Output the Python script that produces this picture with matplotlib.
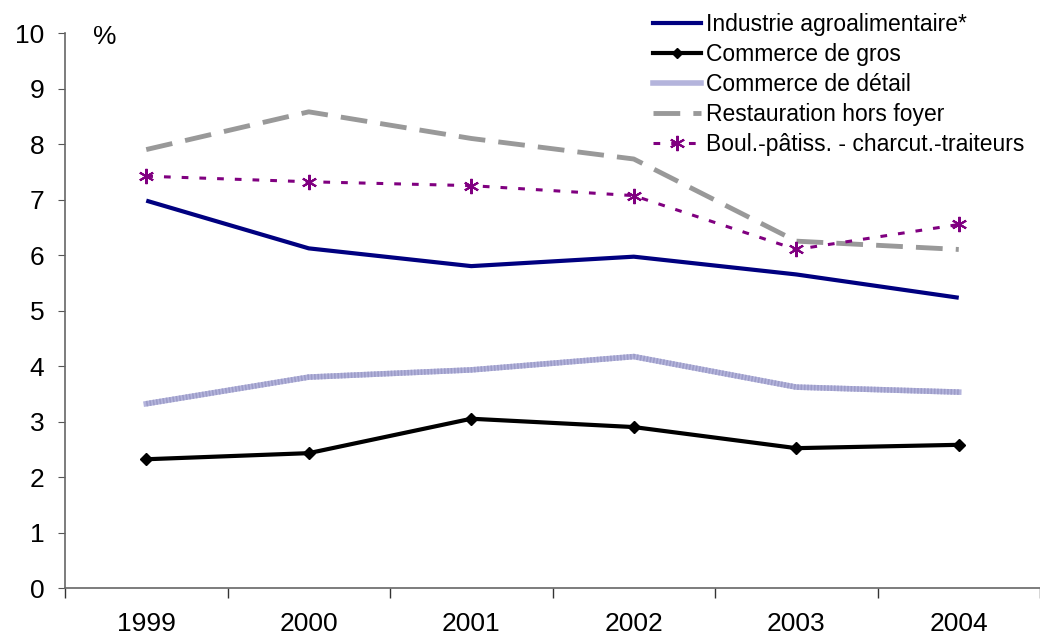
import matplotlib
matplotlib.use("Agg")
import matplotlib.pyplot as plt
from matplotlib.lines import Line2D

plt.rcParams['font.family'] = ['Liberation Sans', 'DejaVu Sans']

years = ["1999", "2000", "2001", "2002", "2003", "2004"]
industrie = [6.98, 6.12, 5.80, 5.97, 5.65, 5.23]
commerce_gros = [2.32, 2.43, 3.05, 2.90, 2.52, 2.58]
commerce_detail = [3.32, 3.80, 3.93, 4.17, 3.62, 3.53]
restauration = [7.90, 8.58, 8.10, 7.73, 6.25, 6.10]
boulangerie = [7.42, 7.32, 7.25, 7.07, 6.10, 6.55]

labels = ["Industrie agroalimentaire*", "Commerce de gros", "Commerce de détail",
          "Restauration hors foyer", "Boul.-pâtiss. - charcut.-traiteurs"]

fig = plt.figure(figsize=(10.4, 6.35), dpi=100)
ax = fig.add_axes([0.0625, 0.074, 0.9375, 0.874])

x = list(range(len(years)))
ax.plot(x, industrie, color="#000080", lw=3, solid_capstyle="butt", zorder=3)
ax.plot(x, commerce_gros, color="black", lw=3, marker="D", ms=6, zorder=3)
ax.plot(x, commerce_detail, color="#b4b4dc", lw=4, zorder=2)
ax.plot(x, commerce_detail, color="#9c9cc8", lw=4, ls=(0, (0.3, 0.3)), zorder=2)
ax.plot(x, restauration, color="#999999", lw=3.5, ls=(0, (5.5, 2.7)), zorder=2)
ax.plot(x, boulangerie, color="#800080", lw=2.2, ls=(0, (2.2, 3.6)), marker=(6, 2, 0),
        ms=11, mew=1.5, zorder=4)

ax.set_xlim(-0.5, 5.5)
ax.set_ylim(0, 10)
ax.set_yticks(range(0, 11))
ax.set_xticks([i - 0.5 for i in range(7)])
ax.set_xticklabels([])
ax.set_xticks(x, minor=True)
ax.set_xticklabels(years, minor=True)
ax.tick_params(axis="x", which="major", length=7, direction="out", color="#333333", width=1)
ax.tick_params(axis="x", which="minor", length=0, pad=17, labelsize=19)
ax.tick_params(axis="y", length=5, direction="out", color="#555555", labelsize=19, pad=10)
for s in ["top", "right"]:
    ax.spines[s].set_visible(False)
for s in ["left", "bottom"]:
    ax.spines[s].set_color("#666666")
    ax.spines[s].set_linewidth(1.2)

ax.text(0.0287, 0.993, "%", transform=ax.transAxes, fontsize=19, va="center", ha="left")

handles = [
    Line2D([], [], color="#000080", lw=3),
    Line2D([], [], color="black", lw=3, marker="D", ms=5),
    Line2D([], [], color="#b4b4dc", lw=4),
    Line2D([], [], color="#999999", lw=3.5, ls=(0, (5.5, 2.7))),
    Line2D([], [], color="#800080", lw=2.2, ls=(0, (2.2, 3.6)), marker=(6, 2, 0), ms=11, mew=1.5),
]
leg = fig.legend(handles, labels, loc="upper left", bbox_to_anchor=(0.628, 0.98),
                 frameon=False, fontsize=16.5, handlelength=2.1, handletextpad=0.2,
                 labelspacing=0.31, borderaxespad=0, borderpad=0)

fig.savefig("out.png", dpi=100)
